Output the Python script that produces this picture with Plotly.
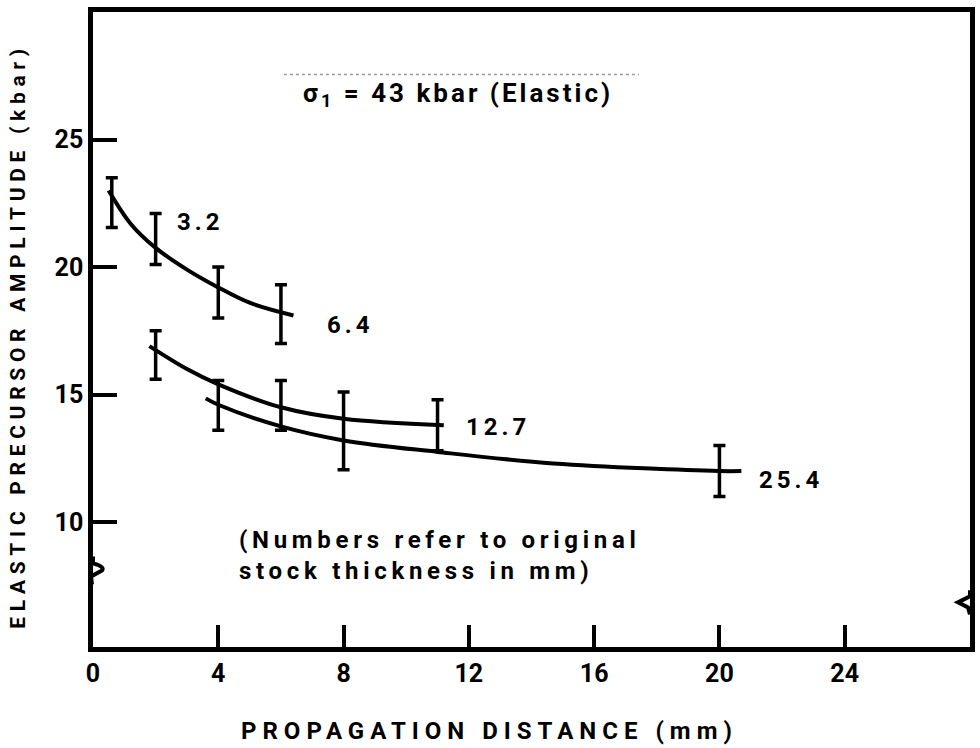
import plotly.graph_objects as go

# ---- data ----
x_ticks = [0, 4, 8, 12, 16, 20, 24]
y_ticks = [10, 15, 20, 25]

# smooth fitted curves (knots)
curve_32_x = [0.5, 1.2, 2.0, 3.0, 4.0, 5.0, 6.4]
curve_32_y = [23.0, 21.7, 20.75, 19.9, 19.2, 18.6, 18.1]

curve_127_x = [1.8, 3.0, 4.0, 6.0, 8.0, 11.2]
curve_127_y = [16.9, 16.0, 15.4, 14.5, 14.05, 13.8]

curve_254_x = [3.6, 4.0, 6.0, 8.0, 11.0, 14.7, 20.0, 20.7]
curve_254_y = [14.85, 14.6, 13.75, 13.2, 12.75, 12.3, 12.0, 12.0]

# error bars: x, low, high
bar_x = [0.6, 2.0, 4.0, 6.0, 2.0, 4.0, 6.0, 8.0, 11.0, 20.0]
bar_low = [21.55, 20.1, 18.0, 17.0, 15.6, 13.6, 13.6, 12.05, 12.8, 11.0]
bar_high = [23.5, 22.1, 20.0, 19.3, 17.5, 15.55, 15.55, 15.1, 14.8, 13.0]

# curve labels
label_text = ["3.2", "6.4", "12.7", "25.4"]
label_x = [3.43, 8.22, 12.92, 22.29]
label_y = [21.78, 17.74, 13.73, 11.65]

FONT = "Roboto, Liberation Sans, DejaVu Sans, sans-serif"

bar_mid = [(lo + hi) / 2 for lo, hi in zip(bar_low, bar_high)]
bar_err = [(hi - lo) / 2 for lo, hi in zip(bar_low, bar_high)]

fig = go.Figure()
for cx, cy in [(curve_32_x, curve_32_y), (curve_127_x, curve_127_y), (curve_254_x, curve_254_y)]:
    fig.add_trace(go.Scatter(x=cx, y=cy, mode="lines",
                             line=dict(color="black", width=4, shape="spline", smoothing=1.0),
                             showlegend=False, hoverinfo="skip"))

fig.add_trace(go.Scatter(x=bar_x, y=bar_mid, mode="markers",
                         marker=dict(size=1, color="black"),
                         error_y=dict(type="data", array=bar_err, symmetric=True,
                                      color="black", thickness=3.5, width=6),
                         showlegend=False, hoverinfo="skip"))

for t, lx, ly in zip(label_text, label_x, label_y):
    fig.add_annotation(x=lx, y=ly, xref="x", yref="y", showarrow=False,
                       text='<span style="letter-spacing:4px">' + t + '</span>',
                       font=dict(family=FONT, size=24, color="black", weight="bold"))

# faint dotted rule above the heading
fig.add_shape(type="line", xref="paper", yref="y", x0=(285 - 93) / 882, x1=(642 - 93) / 882,
              y0=27.55, y1=27.55, line=dict(color="#9a9a9a", width=1.5, dash="dot"))

fig.add_annotation(x=(460 - 93) / 882, y=26.75, xref="paper", yref="y", showarrow=False,
                   text='<span style="letter-spacing:3px">σ<sub>1</sub> = 43 kbar (Elastic)</span>',
                   font=dict(family=FONT, size=26, color="black", weight="bold"))

fig.add_annotation(x=4.6, y=8.7, xref="x", yref="y", showarrow=False, xanchor="left",
                   align="left",
                   text='<span style="letter-spacing:4.7px">(Numbers refer to original<br>stock thickness in mm)</span>',
                   font=dict(family=FONT, size=24, color="black", weight="bold"))

# axis titles
fig.add_annotation(x=(492 - 93) / 882, y=0, xref="paper", yref="paper", yshift=-84,
                   showarrow=False, yanchor="middle",
                   text='<span style="letter-spacing:6px">PROPAGATION DISTANCE (mm)</span>',
                   font=dict(family=FONT, size=24, color="black", weight="bold"))
fig.add_annotation(x=0, y=0.49, xref="paper", yref="paper", xshift=-75, textangle=-90,
                   showarrow=False, xanchor="center",
                   text='<span style="letter-spacing:5.7px">ELASTIC PRECURSOR AMPLITUDE (kbar)</span>',
                   font=dict(family=FONT, size=21, color="black", weight="bold"))

# axis break marks
fig.add_shape(type="path", xref="x", yref="y", xsizemode="pixel", ysizemode="pixel",
              xanchor=0, yanchor=8.1,
              path="M 0,14 L 0,7 Q 12,4 9,0 L -2,-6 L -1,-14",
              line=dict(color="black", width=4), layer="above")
fig.add_shape(type="path", xref="x", yref="y", xsizemode="pixel", ysizemode="pixel",
              xanchor=28, yanchor=6.85,
              path="M 0,12 L 0,6 L -12,0 L -2,-5 L 0,-12",
              line=dict(color="black", width=4), layer="above")

fig.update_xaxes(range=[0, 28], tickvals=x_ticks, ticktext=[str(v) for v in x_ticks],
                 ticks="inside", ticklen=22, tickwidth=4, tickcolor="black",
                 showline=True, linewidth=4.5, linecolor="black", mirror=True,
                 showgrid=False, zeroline=False,
                 tickfont=dict(family=FONT, size=25, color="black", weight="bold"))
fig.update_yaxes(range=[5.1, 30], tickvals=y_ticks, ticktext=[str(v) for v in y_ticks],
                 ticks="inside", ticklen=24, tickwidth=4, tickcolor="black",
                 showline=True, linewidth=4.5, linecolor="black", mirror=True,
                 showgrid=False, zeroline=False,
                 tickfont=dict(family=FONT, size=25, color="black", weight="bold"))

fig.update_layout(width=980, height=748, margin=dict(l=93, r=5, t=12, b=101),
                  paper_bgcolor="white", plot_bgcolor="white", showlegend=False)

fig.write_html("out.html")
